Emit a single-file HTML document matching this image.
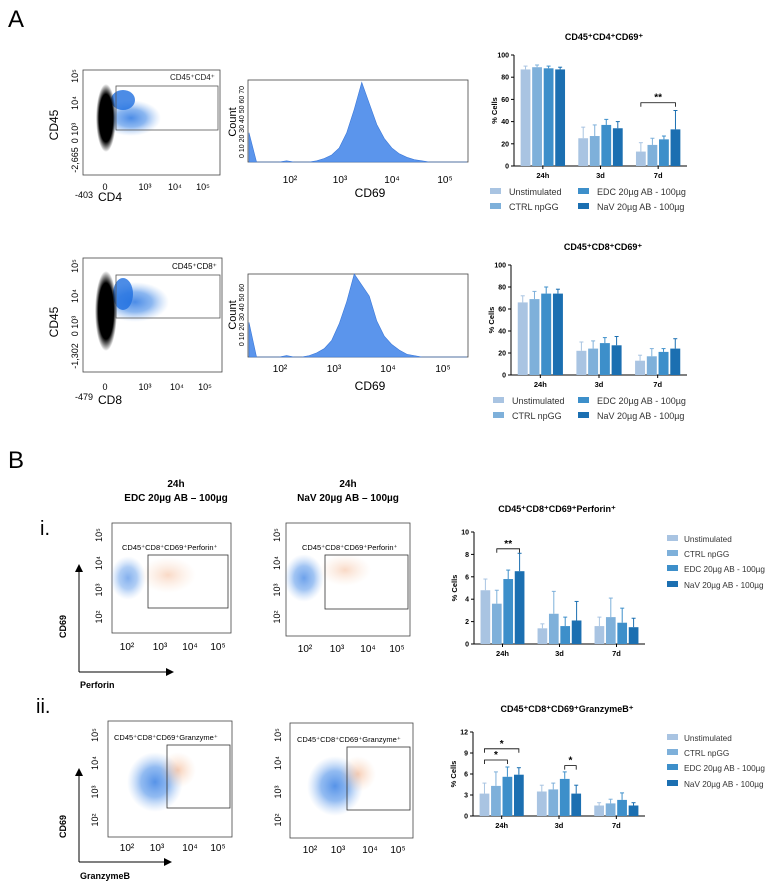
<!DOCTYPE html>
<html><head><meta charset="utf-8"><style>
body{margin:0;background:#fff}
svg{display:block;font-family:"Liberation Sans",sans-serif}
</style></head><body>
<svg id="fig" width="777" height="884" viewBox="0 0 777 884">
<defs>
<radialGradient id="gBlk"><stop offset="0" stop-color="#000"/><stop offset="0.7" stop-color="#000"/><stop offset="1" stop-color="#000" stop-opacity="0"/></radialGradient>
<radialGradient id="gBlu"><stop offset="0" stop-color="#1f6fe0"/><stop offset="0.5" stop-color="#4a8ee8" stop-opacity="0.8"/><stop offset="1" stop-color="#8fb8f0" stop-opacity="0"/></radialGradient>
<radialGradient id="gOr"><stop offset="0" stop-color="#f0a070" stop-opacity="0.8"/><stop offset="1" stop-color="#f7c8a8" stop-opacity="0"/></radialGradient>
<marker id="arr" markerWidth="8" markerHeight="8" refX="4" refY="4" orient="auto"><path d="M0,0 L8,4 L0,8 z" fill="#000"/></marker>
</defs>

<text x="8" y="27" font-size="24">A</text>
<text x="8" y="468" font-size="24">B</text>

<g>
<rect x="83" y="70" width="137" height="105" fill="none" stroke="#444" stroke-width="0.8"/>
<ellipse cx="131" cy="118" rx="30" ry="18" fill="url(#gBlu)" opacity="0.8"/>
<ellipse cx="123" cy="100" rx="12" ry="10" fill="#1f6fe0" opacity="0.8"/>
<ellipse cx="106" cy="118" rx="10" ry="34" fill="url(#gBlk)"/>
<rect x="116" y="86" width="102" height="44" fill="none" stroke="#555" stroke-width="0.8"/>
<text x="170" y="80" font-size="8" fill="#222">CD45⁺CD4⁺</text>
<text x="58" y="125" font-size="12" transform="rotate(-90 58 125)" text-anchor="middle">CD45</text>
<text x="110" y="201" font-size="12" text-anchor="middle">CD4</text>
<g font-size="9" text-anchor="middle"><text x="105" y="190">0</text><text x="145" y="190">10³</text><text x="175" y="190">10⁴</text><text x="203" y="190">10⁵</text><text x="84" y="198">-403</text></g>
<g font-size="9" text-anchor="middle"><text transform="translate(78,76) rotate(-90)">10⁵</text><text transform="translate(78,103) rotate(-90)">10⁴</text><text transform="translate(78,133) rotate(-90)">0 10³</text><text transform="translate(78,160) rotate(-90)">-2,665</text></g>
</g>
<g>
<rect x="248" y="80" width="220" height="82" fill="none" stroke="#444" stroke-width="0.8"/>
<path id="h1" fill="#5b95ec" stroke="#3b78d8" stroke-width="0.6"/>
<text transform="translate(236,122) rotate(-90)" font-size="11" text-anchor="middle">Count</text>
<text transform="translate(244,122) rotate(-90)" font-size="7" text-anchor="middle">0 10 20 30 40 50 60 70</text>
<g font-size="10" text-anchor="middle"><text x="290" y="183">10²</text><text x="340" y="183">10³</text><text x="392" y="183">10⁴</text><text x="445" y="183">10⁵</text></g>
<text x="370" y="197" font-size="12" text-anchor="middle">CD69</text>
</g>

<g>
<rect x="83" y="258" width="139" height="114" fill="none" stroke="#444" stroke-width="0.8"/>
<ellipse cx="135" cy="302" rx="34" ry="20" fill="url(#gBlu)" opacity="0.8"/>
<ellipse cx="123" cy="294" rx="10" ry="16" fill="#1f6fe0" opacity="0.8"/>
<ellipse cx="106" cy="311" rx="11" ry="40" fill="url(#gBlk)"/>
<rect x="116" y="275" width="104" height="43" fill="none" stroke="#555" stroke-width="0.8"/>
<text x="172" y="269" font-size="8">CD45⁺CD8⁺</text>
<text x="58" y="322" font-size="12" transform="rotate(-90 58 322)" text-anchor="middle">CD45</text>
<text x="110" y="404" font-size="12" text-anchor="middle">CD8</text>
<g font-size="9" text-anchor="middle"><text x="105" y="390">0</text><text x="145" y="390">10³</text><text x="177" y="390">10⁴</text><text x="205" y="390">10⁵</text><text x="84" y="400">-479</text></g>
<g font-size="9" text-anchor="middle"><text transform="translate(78,266) rotate(-90)">10⁵</text><text transform="translate(78,296) rotate(-90)">10⁴</text><text transform="translate(78,326) rotate(-90)">0 10³</text><text transform="translate(78,356) rotate(-90)">-1,302</text></g>
</g>
<g>
<rect x="248" y="274" width="220" height="83" fill="none" stroke="#444" stroke-width="0.8"/>
<path id="h2" fill="#5b95ec" stroke="#3b78d8" stroke-width="0.6"/>
<text transform="translate(236,315) rotate(-90)" font-size="11" text-anchor="middle">Count</text>
<text transform="translate(244,315) rotate(-90)" font-size="7" text-anchor="middle">0 10 20 30 40 50 60</text>
<g font-size="10" text-anchor="middle"><text x="280" y="372">10²</text><text x="334" y="372">10³</text><text x="388" y="372">10⁴</text><text x="443" y="372">10⁵</text></g>
<text x="370" y="390" font-size="12" text-anchor="middle">CD69</text>
</g>

<g font-size="10" font-weight="bold" text-anchor="middle">
<text x="176" y="487">24h</text><text x="176" y="501">EDC 20µg AB – 100µg</text>
<text x="348" y="487">24h</text><text x="348" y="501">NaV 20µg AB – 100µg</text>
</g>
<text x="40" y="535" font-size="20">i.</text>
<text x="36" y="713" font-size="20">ii.</text>

<g stroke="#000" stroke-width="1">
<line x1="79" y1="672" x2="79" y2="568" marker-end="url(#arr)"/>
<line x1="79" y1="672" x2="170" y2="672" marker-end="url(#arr)"/>
<line x1="79" y1="862" x2="79" y2="772" marker-end="url(#arr)"/>
<line x1="79" y1="862" x2="168" y2="862" marker-end="url(#arr)"/>
</g>
<g font-size="9" font-weight="bold">
<text transform="translate(66,638) rotate(-90)">CD69</text>
<text x="80" y="688">Perforin</text>
<text transform="translate(66,838) rotate(-90)">CD69</text>
<text x="80" y="879">GranzymeB</text>
</g>

<g>
<rect x="112" y="523" width="119" height="110" fill="none" stroke="#444" stroke-width="0.8"/>
<ellipse cx="128" cy="578" rx="18" ry="22" fill="url(#gBlu)" opacity="0.55"/>
<ellipse cx="168" cy="575" rx="28" ry="18" fill="url(#gOr)" opacity="0.5"/>
<rect x="148" y="555" width="80" height="53" fill="none" stroke="#333" stroke-width="0.8"/>
<text x="122" y="550" font-size="7.5">CD45⁺CD8⁺CD69⁺Perforin⁺</text>
</g>
<g>
<rect x="286" y="523" width="124" height="113" fill="none" stroke="#444" stroke-width="0.8"/>
<ellipse cx="304" cy="578" rx="20" ry="24" fill="url(#gBlu)" opacity="0.65"/>
<ellipse cx="345" cy="570" rx="26" ry="16" fill="url(#gOr)" opacity="0.5"/>
<rect x="325" y="555" width="83" height="54" fill="none" stroke="#333" stroke-width="0.8"/>
<text x="302" y="550" font-size="7.5">CD45⁺CD8⁺CD69⁺Perforin⁺</text>
</g>
<g>
<rect x="108" y="721" width="124" height="116" fill="none" stroke="#444" stroke-width="0.8"/>
<ellipse cx="155" cy="782" rx="28" ry="30" fill="url(#gBlu)" opacity="0.75"/>
<ellipse cx="178" cy="770" rx="18" ry="18" fill="url(#gOr)" opacity="0.65"/>
<rect x="167" y="745" width="63" height="63" fill="none" stroke="#333" stroke-width="0.8"/>
<text x="114" y="740" font-size="7.5">CD45⁺CD8⁺CD69⁺Granzyme⁺</text>
</g>
<g>
<rect x="290" y="723" width="123" height="115" fill="none" stroke="#444" stroke-width="0.8"/>
<ellipse cx="335" cy="786" rx="28" ry="30" fill="url(#gBlu)" opacity="0.75"/>
<ellipse cx="358" cy="774" rx="18" ry="18" fill="url(#gOr)" opacity="0.65"/>
<rect x="347" y="747" width="63" height="63" fill="none" stroke="#333" stroke-width="0.8"/>
<text x="297" y="742" font-size="7.5">CD45⁺CD8⁺CD69⁺Granzyme⁺</text>
</g>
<g font-size="10" text-anchor="middle">
<text x="127" y="650">10²</text><text x="160" y="650">10³</text><text x="190" y="650">10⁴</text><text x="218" y="650">10⁵</text>
<text x="305" y="652">10²</text><text x="337" y="652">10³</text><text x="368" y="652">10⁴</text><text x="397" y="652">10⁵</text>
<text x="127" y="851">10²</text><text x="157" y="851">10³</text><text x="190" y="851">10⁴</text><text x="218" y="851">10⁵</text>
<text x="310" y="853">10²</text><text x="338" y="853">10³</text><text x="370" y="853">10⁴</text><text x="398" y="853">10⁵</text>
</g>
<g font-size="9" text-anchor="middle">
<text transform="translate(102,535) rotate(-90)">10⁵</text><text transform="translate(102,563) rotate(-90)">10⁴</text><text transform="translate(102,590) rotate(-90)">10³</text><text transform="translate(102,617) rotate(-90)">10²</text>
<text transform="translate(280,535) rotate(-90)">10⁵</text><text transform="translate(280,563) rotate(-90)">10⁴</text><text transform="translate(280,590) rotate(-90)">10³</text><text transform="translate(280,617) rotate(-90)">10²</text>
<text transform="translate(98,735) rotate(-90)">10⁵</text><text transform="translate(98,763) rotate(-90)">10⁴</text><text transform="translate(98,792) rotate(-90)">10³</text><text transform="translate(98,820) rotate(-90)">10²</text>
<text transform="translate(281,735) rotate(-90)">10⁵</text><text transform="translate(281,763) rotate(-90)">10⁴</text><text transform="translate(281,792) rotate(-90)">10³</text><text transform="translate(281,820) rotate(-90)">10²</text>
</g>
<g id="charts"></g>
</svg>
<script>
const histCd4 = [25,0,0,0,0,1,0,0,0,1,3,6,12,25,45,68,50,32,20,12,7,4,2,1,0,0,0,0,0,0];
const histCd8 = [25,0,0,0,0,1,0,0,1,3,6,12,24,40,60,52,44,26,15,9,5,2,1,0,0,0,0,0,0,0];
const categories = ["24h","3d","7d"];
const groups = ["Unstimulated","CTRL npGG","EDC 20µg AB - 100µg","NaV 20µg AB - 100µg"];
const cd4Vals = [[87,89,88,87],[25,27,37,34],[13,19,24,33]];
const cd4Err = [[3,2,2,2],[10,10,5,6],[8,6,3,17]];
const cd8Vals = [[66,69,74,74],[22,24,29,27],[13,17,21,24]];
const cd8Err = [[6,7,6,4],[8,7,5,8],[5,7,3,9]];
const perfVals = [[4.8,3.6,5.8,6.5],[1.4,2.7,1.6,2.1],[1.6,2.4,1.9,1.5]];
const perfErr = [[1.0,1.2,0.8,1.6],[0.4,2.0,0.8,1.7],[0.8,1.7,1.3,0.8]];
const granVals = [[3.2,4.3,5.6,5.9],[3.5,3.8,5.3,3.2],[1.5,1.8,2.3,1.5]];
const granErr = [[1.5,2.0,1.4,1.0],[0.9,0.9,1.0,1.2],[0.4,0.6,1.0,0.4]];
const cd4Ticks = [0,20,40,60,80,100];
const perfTicks = [0,2,4,6,8,10];
const granTicks = [0,3,6,9,12];
const colors = ["#a9c4e2","#7eb0da","#3d8fca","#1b6fb1"];
const NS="http://www.w3.org/2000/svg";
const root=document.getElementById('charts');
function mk(tag,attrs,parent){const e=document.createElementNS(NS,tag);for(const k in attrs)e.setAttribute(k,attrs[k]);(parent||root).appendChild(e);return e;}

function hist(id,counts,x0,x1,yb,yt,max){
  const n=counts.length;let d=`M${x0},${yb}`;
  counts.forEach((c,i)=>{const x=x0+(x1-x0)*i/(n-1);const y=yb-(yb-yt)*c/max;d+=` L${x},${y}`;});
  d+=` L${x1},${yb} Z`;document.getElementById(id).setAttribute('d',d);
}
hist('h1',histCd4,249,467,162,80,70);
hist('h2',histCd8,249,467,357,274,60);

function chart(o){
  const g=mk('g',{});
  
  
  const y=v=>o.y0-(o.y0-o.y1)*v/o.max;
  const t=mk('text',{x:o.tx,y:o.ty,'font-size':9,'font-weight':'bold','text-anchor':'middle'},g);t.textContent=o.title;
  mk('line',{x1:o.ax,y1:o.y1,x2:o.ax,y2:o.y0,stroke:'#000','stroke-width':1},g);
  mk('line',{x1:o.ax,y1:o.y0,x2:o.ax2,y2:o.y0,stroke:'#000','stroke-width':1},g);
  o.ticks.forEach(v=>{mk('line',{x1:o.ax-3,x2:o.ax,y1:y(v),y2:y(v),stroke:'#000'},g);
    const l=mk('text',{x:o.ax-5,y:y(v)+2.5,'font-size':7,'font-weight':'bold','text-anchor':'end'},g);l.textContent=v;});
  const yl=mk('text',{transform:`translate(${o.ax-17},${(o.y0+o.y1)/2}) rotate(-90)`,'font-size':7.5,'font-weight':'bold','text-anchor':'middle'},g);yl.textContent='% Cells';
  const cw=(o.ax2-o.ax)/categories.length, bw=cw*0.17, pitch=cw*0.2;
  const bx=(cx,bi)=>cx+(bi-1.5)*pitch-bw/2;
  o.vals.forEach((row,ci)=>{
    const cx=o.ax+cw*(ci+0.5);
    mk('line',{x1:cx,x2:cx,y1:o.y0,y2:o.y0+3,stroke:'#000'},g);
    const l=mk('text',{x:cx,y:o.y0+12,'font-size':7.5,'font-weight':'bold','text-anchor':'middle'},g);l.textContent=categories[ci];
    row.forEach((v,bi)=>{
      const x=bx(cx,bi);
      const b=mk('rect',{x:x,y:y(v),width:bw,height:o.y0-y(v),fill:colors[bi]},g);
      
      
      const e=o.err[ci][bi],xm=x+bw/2;
      mk('line',{x1:xm,x2:xm,y1:y(v),y2:y(v+e),stroke:colors[bi],'stroke-width':1},g);
      mk('line',{x1:xm-2,x2:xm+2,y1:y(v+e),y2:y(v+e),stroke:colors[bi],'stroke-width':1},g);
    });
  });
  (o.sig||[]).forEach(s=>{
    const cx=o.ax+cw*(s.c+0.5);
    const xa=bx(cx,s.a)+bw/2, xb=bx(cx,s.b)+bw/2, yy=y(s.v);
    mk('path',{d:`M${xa},${yy+4} V${yy} H${xb} V${yy+4}`,fill:'none',stroke:'#000','stroke-width':0.8},g);
    const st=mk('text',{x:(xa+xb)/2,y:yy-2,'font-size':10,'font-weight':'bold','text-anchor':'middle'},g);st.textContent=s.t;
  });
  o.legend.forEach((p,i)=>{
    mk('rect',{x:p[0],y:p[1]-5,width:11,height:6,fill:colors[i]},g);
    const lt=mk('text',{x:p[0]+(o.lgap||19),y:p[1]+2,'font-size':o.lfs||9,fill:'#333'},g);lt.textContent=groups[i];
  });
}
chart({name:'cd4-cd69-bar-chart',title:'CD45⁺CD4⁺CD69⁺',tx:604,ty:40,ax:514,ax2:687,y0:166,y1:55,max:100,ticks:cd4Ticks,vals:cd4Vals,err:cd4Err,
  sig:[{c:2,a:0,b:3,v:57,t:'**'}],legend:[[490,193],[490,208],[578,193],[578,208]]});
chart({name:'cd8-cd69-bar-chart',title:'CD45⁺CD8⁺CD69⁺',tx:603,ty:250,ax:511,ax2:687,y0:375,y1:265,max:100,ticks:cd4Ticks,vals:cd8Vals,err:cd8Err,
  legend:[[493,402],[493,417],[578,402],[578,417]]});
chart({name:'perforin-bar-chart',title:'CD45⁺CD8⁺CD69⁺Perforin⁺',tx:557,ty:512,ax:474,ax2:645,y0:644,y1:532,max:10,ticks:perfTicks,vals:perfVals,err:perfErr,
  sig:[{c:0,a:1,b:3,v:8.5,t:'**'}],legend:[[667,540],[667,555],[667,570],[667,586]],lfs:8.2,lgap:17});
chart({name:'granzyme-bar-chart',title:'CD45⁺CD8⁺CD69⁺GranzymeB⁺',tx:567,ty:712,ax:473,ax2:645,y0:816,y1:732,max:12,ticks:granTicks,vals:granVals,err:granErr,
  sig:[{c:0,a:0,b:3,v:9.6,t:'*'},{c:0,a:0,b:2,v:8.0,t:'*'},{c:1,a:2,b:3,v:7.2,t:'*'}],legend:[[667,739],[667,754],[667,769],[667,785]],lfs:8.2,lgap:17});
</script>
</body></html>
